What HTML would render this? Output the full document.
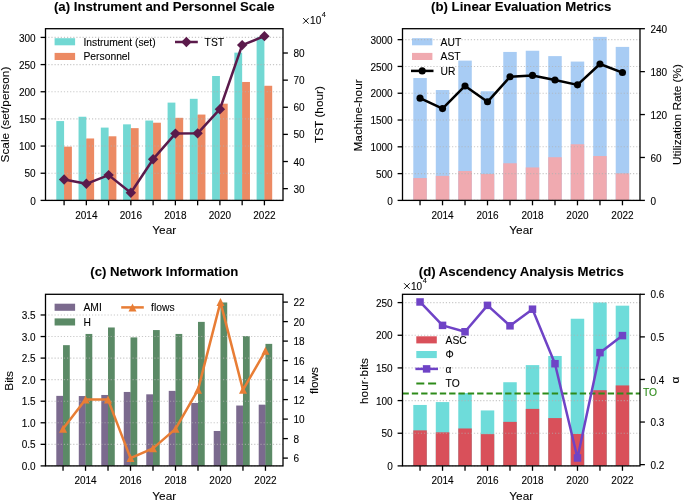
<!DOCTYPE html>
<html><head><meta charset="utf-8"><title>Figure</title>
<style>html,body{margin:0;padding:0;background:#fff;width:685px;height:501px;overflow:hidden}svg{display:block;will-change:transform}</style>
</head><body>
<svg width="685" height="501" viewBox="0 0 685 501" font-family='"Liberation Sans", sans-serif'>
<style>text{stroke:currentColor;stroke-width:0.1px;paint-order:stroke}text[font-weight=bold]{stroke-width:0.08px}</style>
<rect width="685" height="501" fill="#fff"/>
<rect x="56.3" y="121.08" width="7.79" height="79.32" fill="#72D8D3" />
<rect x="63.99" y="147.12" width="0.9" height="53.28" fill="#72D8D3" />
<rect x="64.09" y="146.62" width="7.79" height="53.78" fill="#EC8A63" />
<rect x="78.55" y="116.74" width="7.79" height="83.66" fill="#72D8D3" />
<rect x="86.24" y="138.97" width="0.9" height="61.43" fill="#72D8D3" />
<rect x="86.34" y="138.47" width="7.79" height="61.93" fill="#EC8A63" />
<rect x="100.81" y="127.6" width="7.79" height="72.8" fill="#72D8D3" />
<rect x="108.5" y="136.79" width="0.9" height="63.61" fill="#72D8D3" />
<rect x="108.6" y="136.29" width="7.79" height="64.11" fill="#EC8A63" />
<rect x="123.07" y="124.34" width="7.79" height="76.06" fill="#72D8D3" />
<rect x="130.76" y="128.65" width="0.9" height="71.75" fill="#72D8D3" />
<rect x="130.86" y="128.15" width="7.79" height="72.25" fill="#EC8A63" />
<rect x="145.33" y="120.54" width="7.79" height="79.86" fill="#72D8D3" />
<rect x="153.02" y="123.21" width="0.9" height="77.19" fill="#72D8D3" />
<rect x="153.12" y="122.71" width="7.79" height="77.69" fill="#EC8A63" />
<rect x="167.59" y="102.61" width="7.79" height="97.79" fill="#72D8D3" />
<rect x="175.28" y="118.32" width="0.9" height="82.08" fill="#72D8D3" />
<rect x="175.38" y="117.82" width="7.79" height="82.58" fill="#EC8A63" />
<rect x="189.85" y="98.81" width="7.79" height="101.59" fill="#72D8D3" />
<rect x="197.54" y="115.06" width="0.9" height="85.34" fill="#72D8D3" />
<rect x="197.64" y="114.56" width="7.79" height="85.84" fill="#EC8A63" />
<rect x="212.11" y="75.99" width="7.79" height="124.41" fill="#72D8D3" />
<rect x="219.8" y="104.2" width="0.9" height="96.2" fill="#72D8D3" />
<rect x="219.9" y="103.7" width="7.79" height="96.7" fill="#EC8A63" />
<rect x="234.36" y="52.63" width="7.79" height="147.77" fill="#72D8D3" />
<rect x="242.06" y="82.47" width="0.9" height="117.93" fill="#72D8D3" />
<rect x="242.16" y="81.97" width="7.79" height="118.43" fill="#EC8A63" />
<rect x="256.62" y="36.88" width="7.79" height="163.52" fill="#72D8D3" />
<rect x="264.31" y="86.27" width="0.9" height="114.13" fill="#72D8D3" />
<rect x="264.41" y="85.77" width="7.79" height="114.63" fill="#EC8A63" />
<line x1="45.5" y1="200.4" x2="283" y2="200.4" stroke="#b0b0b0" stroke-opacity="0.7" stroke-width="1.1" stroke-dasharray="1.18 1.94" stroke-dashoffset="0.34"/>
<line x1="45.5" y1="173.24" x2="283" y2="173.24" stroke="#b0b0b0" stroke-opacity="0.7" stroke-width="1.1" stroke-dasharray="1.18 1.94" stroke-dashoffset="0.34"/>
<line x1="45.5" y1="146.07" x2="283" y2="146.07" stroke="#b0b0b0" stroke-opacity="0.7" stroke-width="1.1" stroke-dasharray="1.18 1.94" stroke-dashoffset="0.34"/>
<line x1="45.5" y1="118.91" x2="283" y2="118.91" stroke="#b0b0b0" stroke-opacity="0.7" stroke-width="1.1" stroke-dasharray="1.18 1.94" stroke-dashoffset="0.34"/>
<line x1="45.5" y1="91.75" x2="283" y2="91.75" stroke="#b0b0b0" stroke-opacity="0.7" stroke-width="1.1" stroke-dasharray="1.18 1.94" stroke-dashoffset="0.34"/>
<line x1="45.5" y1="64.58" x2="283" y2="64.58" stroke="#b0b0b0" stroke-opacity="0.7" stroke-width="1.1" stroke-dasharray="1.18 1.94" stroke-dashoffset="0.34"/>
<line x1="45.5" y1="37.42" x2="283" y2="37.42" stroke="#b0b0b0" stroke-opacity="0.7" stroke-width="1.1" stroke-dasharray="1.18 1.94" stroke-dashoffset="0.34"/>
<polyline points="64.09,179.51 86.34,183.8 108.6,175.12 130.86,192.7 153.12,159.19 175.38,133.58 197.64,133.36 219.9,109.22 242.16,45.11 264.41,36.16" fill="none" stroke="#5B1A4B" stroke-width="2.5" stroke-linejoin="round" stroke-linecap="butt"/>
<path d="M58.89,179.51 L64.09,174.31 L69.29,179.51 L64.09,184.71 Z" fill="#5B1A4B"/>
<path d="M81.14,183.8 L86.34,178.6 L91.54,183.8 L86.34,189 Z" fill="#5B1A4B"/>
<path d="M103.4,175.12 L108.6,169.92 L113.8,175.12 L108.6,180.32 Z" fill="#5B1A4B"/>
<path d="M125.66,192.7 L130.86,187.5 L136.06,192.7 L130.86,197.9 Z" fill="#5B1A4B"/>
<path d="M147.92,159.19 L153.12,153.99 L158.32,159.19 L153.12,164.39 Z" fill="#5B1A4B"/>
<path d="M170.18,133.58 L175.38,128.38 L180.58,133.58 L175.38,138.78 Z" fill="#5B1A4B"/>
<path d="M192.44,133.36 L197.64,128.16 L202.84,133.36 L197.64,138.56 Z" fill="#5B1A4B"/>
<path d="M214.7,109.22 L219.9,104.02 L225.1,109.22 L219.9,114.42 Z" fill="#5B1A4B"/>
<path d="M236.96,45.11 L242.16,39.91 L247.36,45.11 L242.16,50.31 Z" fill="#5B1A4B"/>
<path d="M259.21,36.16 L264.41,30.96 L269.61,36.16 L264.41,41.36 Z" fill="#5B1A4B"/>
<rect x="45.5" y="28.7" width="237.5" height="171.7" fill="none" stroke="#000" stroke-width="1.3"/>
<line x1="64.09" y1="200.4" x2="64.09" y2="205.3" stroke="#000" stroke-width="1.3"/>
<line x1="86.34" y1="200.4" x2="86.34" y2="205.3" stroke="#000" stroke-width="1.3"/>
<line x1="108.6" y1="200.4" x2="108.6" y2="205.3" stroke="#000" stroke-width="1.3"/>
<line x1="130.86" y1="200.4" x2="130.86" y2="205.3" stroke="#000" stroke-width="1.3"/>
<line x1="153.12" y1="200.4" x2="153.12" y2="205.3" stroke="#000" stroke-width="1.3"/>
<line x1="175.38" y1="200.4" x2="175.38" y2="205.3" stroke="#000" stroke-width="1.3"/>
<line x1="197.64" y1="200.4" x2="197.64" y2="205.3" stroke="#000" stroke-width="1.3"/>
<line x1="219.9" y1="200.4" x2="219.9" y2="205.3" stroke="#000" stroke-width="1.3"/>
<line x1="242.16" y1="200.4" x2="242.16" y2="205.3" stroke="#000" stroke-width="1.3"/>
<line x1="264.41" y1="200.4" x2="264.41" y2="205.3" stroke="#000" stroke-width="1.3"/>
<text x="86.34" y="218.5" font-size="10.0" text-anchor="middle" font-weight="normal" fill="#000" color="#000" >2014</text>
<text x="130.86" y="218.5" font-size="10.0" text-anchor="middle" font-weight="normal" fill="#000" color="#000" >2016</text>
<text x="175.38" y="218.5" font-size="10.0" text-anchor="middle" font-weight="normal" fill="#000" color="#000" >2018</text>
<text x="219.9" y="218.5" font-size="10.0" text-anchor="middle" font-weight="normal" fill="#000" color="#000" >2020</text>
<text x="264.41" y="218.5" font-size="10.0" text-anchor="middle" font-weight="normal" fill="#000" color="#000" >2022</text>
<line x1="40.6" y1="200.4" x2="45.5" y2="200.4" stroke="#000" stroke-width="1.3"/>
<text x="35.7" y="204.5" font-size="10.0" text-anchor="end" font-weight="normal" fill="#000" color="#000" >0</text>
<line x1="40.6" y1="173.24" x2="45.5" y2="173.24" stroke="#000" stroke-width="1.3"/>
<text x="35.7" y="177.34" font-size="10.0" text-anchor="end" font-weight="normal" fill="#000" color="#000" >50</text>
<line x1="40.6" y1="146.07" x2="45.5" y2="146.07" stroke="#000" stroke-width="1.3"/>
<text x="35.7" y="150.17" font-size="10.0" text-anchor="end" font-weight="normal" fill="#000" color="#000" >100</text>
<line x1="40.6" y1="118.91" x2="45.5" y2="118.91" stroke="#000" stroke-width="1.3"/>
<text x="35.7" y="123.01" font-size="10.0" text-anchor="end" font-weight="normal" fill="#000" color="#000" >150</text>
<line x1="40.6" y1="91.75" x2="45.5" y2="91.75" stroke="#000" stroke-width="1.3"/>
<text x="35.7" y="95.85" font-size="10.0" text-anchor="end" font-weight="normal" fill="#000" color="#000" >200</text>
<line x1="40.6" y1="64.58" x2="45.5" y2="64.58" stroke="#000" stroke-width="1.3"/>
<text x="35.7" y="68.68" font-size="10.0" text-anchor="end" font-weight="normal" fill="#000" color="#000" >250</text>
<line x1="40.6" y1="37.42" x2="45.5" y2="37.42" stroke="#000" stroke-width="1.3"/>
<text x="35.7" y="41.52" font-size="10.0" text-anchor="end" font-weight="normal" fill="#000" color="#000" >300</text>
<line x1="283" y1="188.65" x2="287.9" y2="188.65" stroke="#000" stroke-width="1.3"/>
<text x="293.4" y="192.75" font-size="10.0" text-anchor="start" font-weight="normal" fill="#000" color="#000" >30</text>
<line x1="283" y1="161.52" x2="287.9" y2="161.52" stroke="#000" stroke-width="1.3"/>
<text x="293.4" y="165.62" font-size="10.0" text-anchor="start" font-weight="normal" fill="#000" color="#000" >40</text>
<line x1="283" y1="134.39" x2="287.9" y2="134.39" stroke="#000" stroke-width="1.3"/>
<text x="293.4" y="138.49" font-size="10.0" text-anchor="start" font-weight="normal" fill="#000" color="#000" >50</text>
<line x1="283" y1="107.27" x2="287.9" y2="107.27" stroke="#000" stroke-width="1.3"/>
<text x="293.4" y="111.37" font-size="10.0" text-anchor="start" font-weight="normal" fill="#000" color="#000" >60</text>
<line x1="283" y1="80.14" x2="287.9" y2="80.14" stroke="#000" stroke-width="1.3"/>
<text x="293.4" y="84.24" font-size="10.0" text-anchor="start" font-weight="normal" fill="#000" color="#000" >70</text>
<line x1="283" y1="53.01" x2="287.9" y2="53.01" stroke="#000" stroke-width="1.3"/>
<text x="293.4" y="57.11" font-size="10.0" text-anchor="start" font-weight="normal" fill="#000" color="#000" >80</text>
<text x="164.25" y="10.6" font-size="13.2" text-anchor="middle" font-weight="bold" fill="#000" color="#000" >(a) Instrument and Personnel Scale</text>
<text x="164.25" y="234" font-size="11.8" text-anchor="middle" font-weight="normal" fill="#000" color="#000" >Year</text>
<text x="0" y="0" font-size="11.8" text-anchor="middle" transform="translate(9.2,114.55) rotate(-90)">Scale (set/person)</text>
<text x="0" y="0" font-size="11.8" text-anchor="middle" transform="translate(323.1,114.55) rotate(-90)">TST (hour)</text>
<path d="M303.15,18.1 L308.65,23.6 M303.15,23.6 L308.65,18.1" stroke="#000" stroke-width="0.95" fill="none"/>
<text x="310.1" y="24" font-size="10.0">10</text>
<text x="321.7" y="17" font-size="7.4">4</text>
<rect x="54.6" y="38.2" width="20.5" height="7.1" fill="#72D8D3" />
<text x="83.5" y="45.5" font-size="10.3" text-anchor="start" font-weight="normal" fill="#000" color="#000" >Instrument (set)</text>
<rect x="54.6" y="52.9" width="20.5" height="7.1" fill="#EC8A63" />
<text x="83.5" y="60.1" font-size="10.3" text-anchor="start" font-weight="normal" fill="#000" color="#000" >Personnel</text>
<line x1="175" y1="42" x2="197.8" y2="42" stroke="#5B1A4B" stroke-width="2.5"/>
<path d="M181.2,42 L186.4,36.8 L191.6,42 L186.4,47.2 Z" fill="#5B1A4B"/>
<text x="204.6" y="45.6" font-size="10.3" text-anchor="start" font-weight="normal" fill="#000" color="#000" >TST</text>
<rect x="413.3" y="78.03" width="13.49" height="122.37" fill="#A8CCF4" />
<rect x="413.3" y="178.06" width="13.49" height="22.34" fill="#F0AAB0" />
<rect x="435.79" y="90.03" width="13.49" height="110.37" fill="#A8CCF4" />
<rect x="435.79" y="175.86" width="13.49" height="24.54" fill="#F0AAB0" />
<rect x="458.28" y="60.61" width="13.49" height="139.79" fill="#A8CCF4" />
<rect x="458.28" y="171.04" width="13.49" height="29.36" fill="#F0AAB0" />
<rect x="480.77" y="91.26" width="13.49" height="109.14" fill="#A8CCF4" />
<rect x="480.77" y="174.04" width="13.49" height="26.36" fill="#F0AAB0" />
<rect x="503.26" y="51.93" width="13.49" height="148.47" fill="#A8CCF4" />
<rect x="503.26" y="163.27" width="13.49" height="37.13" fill="#F0AAB0" />
<rect x="525.75" y="50.75" width="13.49" height="149.65" fill="#A8CCF4" />
<rect x="525.75" y="167.45" width="13.49" height="32.95" fill="#F0AAB0" />
<rect x="548.24" y="56.11" width="13.49" height="144.29" fill="#A8CCF4" />
<rect x="548.24" y="157.22" width="13.49" height="43.18" fill="#F0AAB0" />
<rect x="570.73" y="61.58" width="13.49" height="138.82" fill="#A8CCF4" />
<rect x="570.73" y="144.25" width="13.49" height="56.15" fill="#F0AAB0" />
<rect x="593.22" y="36.88" width="13.49" height="163.52" fill="#A8CCF4" />
<rect x="593.22" y="156.04" width="13.49" height="44.36" fill="#F0AAB0" />
<rect x="615.71" y="46.9" width="13.49" height="153.5" fill="#A8CCF4" />
<rect x="615.71" y="173.34" width="13.49" height="27.06" fill="#F0AAB0" />
<rect x="412" y="38.2" width="20.4" height="7.1" fill="#A8CCF4" />
<line x1="402.5" y1="200.4" x2="640" y2="200.4" stroke="#b0b0b0" stroke-opacity="0.7" stroke-width="1.1" stroke-dasharray="1.18 1.94" stroke-dashoffset="0.34"/>
<line x1="402.5" y1="173.61" x2="640" y2="173.61" stroke="#b0b0b0" stroke-opacity="0.7" stroke-width="1.1" stroke-dasharray="1.18 1.94" stroke-dashoffset="0.34"/>
<line x1="402.5" y1="146.82" x2="640" y2="146.82" stroke="#b0b0b0" stroke-opacity="0.7" stroke-width="1.1" stroke-dasharray="1.18 1.94" stroke-dashoffset="0.34"/>
<line x1="402.5" y1="120.03" x2="640" y2="120.03" stroke="#b0b0b0" stroke-opacity="0.7" stroke-width="1.1" stroke-dasharray="1.18 1.94" stroke-dashoffset="0.34"/>
<line x1="402.5" y1="93.24" x2="640" y2="93.24" stroke="#b0b0b0" stroke-opacity="0.7" stroke-width="1.1" stroke-dasharray="1.18 1.94" stroke-dashoffset="0.34"/>
<line x1="402.5" y1="66.45" x2="640" y2="66.45" stroke="#b0b0b0" stroke-opacity="0.7" stroke-width="1.1" stroke-dasharray="1.18 1.94" stroke-dashoffset="0.34"/>
<line x1="402.5" y1="39.66" x2="640" y2="39.66" stroke="#b0b0b0" stroke-opacity="0.7" stroke-width="1.1" stroke-dasharray="1.18 1.94" stroke-dashoffset="0.34"/>
<polyline points="420.04,98.17 442.53,108.61 465.02,85.93 487.51,101.82 510,76.78 532.5,75.42 554.99,80 577.48,84.86 599.97,63.97 622.46,72.56" fill="none" stroke="#000" stroke-width="2.5" stroke-linejoin="round" stroke-linecap="butt"/>
<circle cx="420.04" cy="98.17" r="3.55" fill="#000"/>
<circle cx="442.53" cy="108.61" r="3.55" fill="#000"/>
<circle cx="465.02" cy="85.93" r="3.55" fill="#000"/>
<circle cx="487.51" cy="101.82" r="3.55" fill="#000"/>
<circle cx="510" cy="76.78" r="3.55" fill="#000"/>
<circle cx="532.5" cy="75.42" r="3.55" fill="#000"/>
<circle cx="554.99" cy="80" r="3.55" fill="#000"/>
<circle cx="577.48" cy="84.86" r="3.55" fill="#000"/>
<circle cx="599.97" cy="63.97" r="3.55" fill="#000"/>
<circle cx="622.46" cy="72.56" r="3.55" fill="#000"/>
<rect x="402.5" y="28.7" width="237.5" height="171.7" fill="none" stroke="#000" stroke-width="1.3"/>
<line x1="420.04" y1="200.4" x2="420.04" y2="205.3" stroke="#000" stroke-width="1.3"/>
<line x1="442.53" y1="200.4" x2="442.53" y2="205.3" stroke="#000" stroke-width="1.3"/>
<line x1="465.02" y1="200.4" x2="465.02" y2="205.3" stroke="#000" stroke-width="1.3"/>
<line x1="487.51" y1="200.4" x2="487.51" y2="205.3" stroke="#000" stroke-width="1.3"/>
<line x1="510" y1="200.4" x2="510" y2="205.3" stroke="#000" stroke-width="1.3"/>
<line x1="532.5" y1="200.4" x2="532.5" y2="205.3" stroke="#000" stroke-width="1.3"/>
<line x1="554.99" y1="200.4" x2="554.99" y2="205.3" stroke="#000" stroke-width="1.3"/>
<line x1="577.48" y1="200.4" x2="577.48" y2="205.3" stroke="#000" stroke-width="1.3"/>
<line x1="599.97" y1="200.4" x2="599.97" y2="205.3" stroke="#000" stroke-width="1.3"/>
<line x1="622.46" y1="200.4" x2="622.46" y2="205.3" stroke="#000" stroke-width="1.3"/>
<text x="442.53" y="218.5" font-size="10.0" text-anchor="middle" font-weight="normal" fill="#000" color="#000" >2014</text>
<text x="487.51" y="218.5" font-size="10.0" text-anchor="middle" font-weight="normal" fill="#000" color="#000" >2016</text>
<text x="532.5" y="218.5" font-size="10.0" text-anchor="middle" font-weight="normal" fill="#000" color="#000" >2018</text>
<text x="577.48" y="218.5" font-size="10.0" text-anchor="middle" font-weight="normal" fill="#000" color="#000" >2020</text>
<text x="622.46" y="218.5" font-size="10.0" text-anchor="middle" font-weight="normal" fill="#000" color="#000" >2022</text>
<line x1="397.6" y1="200.4" x2="402.5" y2="200.4" stroke="#000" stroke-width="1.3"/>
<text x="392.7" y="204.5" font-size="10.0" text-anchor="end" font-weight="normal" fill="#000" color="#000" >0</text>
<line x1="397.6" y1="173.61" x2="402.5" y2="173.61" stroke="#000" stroke-width="1.3"/>
<text x="392.7" y="177.71" font-size="10.0" text-anchor="end" font-weight="normal" fill="#000" color="#000" >500</text>
<line x1="397.6" y1="146.82" x2="402.5" y2="146.82" stroke="#000" stroke-width="1.3"/>
<text x="392.7" y="150.92" font-size="10.0" text-anchor="end" font-weight="normal" fill="#000" color="#000" >1000</text>
<line x1="397.6" y1="120.03" x2="402.5" y2="120.03" stroke="#000" stroke-width="1.3"/>
<text x="392.7" y="124.13" font-size="10.0" text-anchor="end" font-weight="normal" fill="#000" color="#000" >1500</text>
<line x1="397.6" y1="93.24" x2="402.5" y2="93.24" stroke="#000" stroke-width="1.3"/>
<text x="392.7" y="97.34" font-size="10.0" text-anchor="end" font-weight="normal" fill="#000" color="#000" >2000</text>
<line x1="397.6" y1="66.45" x2="402.5" y2="66.45" stroke="#000" stroke-width="1.3"/>
<text x="392.7" y="70.55" font-size="10.0" text-anchor="end" font-weight="normal" fill="#000" color="#000" >2500</text>
<line x1="397.6" y1="39.66" x2="402.5" y2="39.66" stroke="#000" stroke-width="1.3"/>
<text x="392.7" y="43.76" font-size="10.0" text-anchor="end" font-weight="normal" fill="#000" color="#000" >3000</text>
<line x1="640" y1="200.4" x2="644.9" y2="200.4" stroke="#000" stroke-width="1.3"/>
<text x="650.4" y="204.5" font-size="10.0" text-anchor="start" font-weight="normal" fill="#000" color="#000" >0</text>
<line x1="640" y1="157.47" x2="644.9" y2="157.47" stroke="#000" stroke-width="1.3"/>
<text x="650.4" y="161.57" font-size="10.0" text-anchor="start" font-weight="normal" fill="#000" color="#000" >60</text>
<line x1="640" y1="114.55" x2="644.9" y2="114.55" stroke="#000" stroke-width="1.3"/>
<text x="650.4" y="118.65" font-size="10.0" text-anchor="start" font-weight="normal" fill="#000" color="#000" >120</text>
<line x1="640" y1="71.62" x2="644.9" y2="71.62" stroke="#000" stroke-width="1.3"/>
<text x="650.4" y="75.72" font-size="10.0" text-anchor="start" font-weight="normal" fill="#000" color="#000" >180</text>
<line x1="640" y1="28.7" x2="644.9" y2="28.7" stroke="#000" stroke-width="1.3"/>
<text x="650.4" y="32.8" font-size="10.0" text-anchor="start" font-weight="normal" fill="#000" color="#000" >240</text>
<text x="521.25" y="10.6" font-size="13.2" text-anchor="middle" font-weight="bold" fill="#000" color="#000" >(b) Linear Evaluation Metrics</text>
<text x="521.25" y="234" font-size="11.8" text-anchor="middle" font-weight="normal" fill="#000" color="#000" >Year</text>
<text x="0" y="0" font-size="11.8" text-anchor="middle" transform="translate(362.3,115.45) rotate(-90)">Machine-hour</text>
<text x="0" y="0" font-size="11.8" text-anchor="middle" transform="translate(681,114.55) rotate(-90)">Utilization Rate (%)</text>
<text x="440.6" y="45.5" font-size="10.3" text-anchor="start" font-weight="normal" fill="#000" color="#000" >AUT</text>
<rect x="412" y="52.9" width="20.4" height="7.1" fill="#F0AAB0" />
<text x="440.6" y="60.1" font-size="10.3" text-anchor="start" font-weight="normal" fill="#000" color="#000" >AST</text>
<line x1="411" y1="70.9" x2="433.5" y2="70.9" stroke="#000" stroke-width="2.5"/>
<circle cx="422.2" cy="70.9" r="3.55" fill="#000"/>
<text x="440.6" y="74.6" font-size="10.3" text-anchor="start" font-weight="normal" fill="#000" color="#000" >UR</text>
<rect x="56.3" y="395.87" width="6.75" height="70.03" fill="#7B6A8E" />
<rect x="62.94" y="396.37" width="0.9" height="69.53" fill="#7B6A8E" />
<rect x="63.04" y="345.16" width="6.75" height="120.74" fill="#5B8A66" />
<rect x="78.79" y="396.04" width="6.75" height="69.86" fill="#7B6A8E" />
<rect x="85.43" y="396.54" width="0.9" height="69.36" fill="#7B6A8E" />
<rect x="85.53" y="333.95" width="6.75" height="131.95" fill="#5B8A66" />
<rect x="101.28" y="394.97" width="6.75" height="70.93" fill="#7B6A8E" />
<rect x="107.92" y="395.47" width="0.9" height="70.43" fill="#7B6A8E" />
<rect x="108.02" y="327.48" width="6.75" height="138.42" fill="#5B8A66" />
<rect x="123.77" y="391.95" width="6.75" height="73.95" fill="#7B6A8E" />
<rect x="130.41" y="392.45" width="0.9" height="73.45" fill="#7B6A8E" />
<rect x="130.51" y="337.4" width="6.75" height="128.5" fill="#5B8A66" />
<rect x="146.26" y="394.32" width="6.75" height="71.58" fill="#7B6A8E" />
<rect x="152.9" y="394.82" width="0.9" height="71.08" fill="#7B6A8E" />
<rect x="153" y="330.07" width="6.75" height="135.83" fill="#5B8A66" />
<rect x="168.75" y="390.87" width="6.75" height="75.03" fill="#7B6A8E" />
<rect x="175.4" y="391.37" width="0.9" height="74.53" fill="#7B6A8E" />
<rect x="175.5" y="333.95" width="6.75" height="131.95" fill="#5B8A66" />
<rect x="191.24" y="402.94" width="6.75" height="62.96" fill="#7B6A8E" />
<rect x="197.89" y="403.44" width="0.9" height="62.46" fill="#7B6A8E" />
<rect x="197.99" y="321.88" width="6.75" height="144.02" fill="#5B8A66" />
<rect x="213.73" y="430.97" width="6.75" height="34.93" fill="#7B6A8E" />
<rect x="220.38" y="431.47" width="0.9" height="34.43" fill="#7B6A8E" />
<rect x="220.48" y="302.47" width="6.75" height="163.43" fill="#5B8A66" />
<rect x="236.22" y="405.53" width="6.75" height="60.37" fill="#7B6A8E" />
<rect x="242.87" y="406.03" width="0.9" height="59.87" fill="#7B6A8E" />
<rect x="242.97" y="336.11" width="6.75" height="129.79" fill="#5B8A66" />
<rect x="258.71" y="404.67" width="6.75" height="61.23" fill="#7B6A8E" />
<rect x="265.36" y="405.17" width="0.9" height="60.73" fill="#7B6A8E" />
<rect x="265.46" y="343.87" width="6.75" height="122.03" fill="#5B8A66" />
<line x1="45.5" y1="465.9" x2="283" y2="465.9" stroke="#b0b0b0" stroke-opacity="0.7" stroke-width="1.1" stroke-dasharray="1.18 1.94" stroke-dashoffset="0.34"/>
<line x1="45.5" y1="444.34" x2="283" y2="444.34" stroke="#b0b0b0" stroke-opacity="0.7" stroke-width="1.1" stroke-dasharray="1.18 1.94" stroke-dashoffset="0.34"/>
<line x1="45.5" y1="422.78" x2="283" y2="422.78" stroke="#b0b0b0" stroke-opacity="0.7" stroke-width="1.1" stroke-dasharray="1.18 1.94" stroke-dashoffset="0.34"/>
<line x1="45.5" y1="401.22" x2="283" y2="401.22" stroke="#b0b0b0" stroke-opacity="0.7" stroke-width="1.1" stroke-dasharray="1.18 1.94" stroke-dashoffset="0.34"/>
<line x1="45.5" y1="379.66" x2="283" y2="379.66" stroke="#b0b0b0" stroke-opacity="0.7" stroke-width="1.1" stroke-dasharray="1.18 1.94" stroke-dashoffset="0.34"/>
<line x1="45.5" y1="358.1" x2="283" y2="358.1" stroke="#b0b0b0" stroke-opacity="0.7" stroke-width="1.1" stroke-dasharray="1.18 1.94" stroke-dashoffset="0.34"/>
<line x1="45.5" y1="336.54" x2="283" y2="336.54" stroke="#b0b0b0" stroke-opacity="0.7" stroke-width="1.1" stroke-dasharray="1.18 1.94" stroke-dashoffset="0.34"/>
<line x1="45.5" y1="314.98" x2="283" y2="314.98" stroke="#b0b0b0" stroke-opacity="0.7" stroke-width="1.1" stroke-dasharray="1.18 1.94" stroke-dashoffset="0.34"/>
<polyline points="63.04,428.85 85.53,399.6 108.02,399.6 130.51,458.1 153,448.35 175.5,428.85 197.99,389.85 220.48,302.1 242.97,389.85 265.46,350.85" fill="none" stroke="#E87D35" stroke-width="2.5" stroke-linejoin="round" stroke-linecap="butt"/>
<path d="M63.04,424.85 L59.04,432.85 L67.04,432.85 Z" fill="#E87D35"/>
<path d="M85.53,395.6 L81.53,403.6 L89.53,403.6 Z" fill="#E87D35"/>
<path d="M108.02,395.6 L104.02,403.6 L112.02,403.6 Z" fill="#E87D35"/>
<path d="M130.51,454.1 L126.51,462.1 L134.51,462.1 Z" fill="#E87D35"/>
<path d="M153,444.35 L149,452.35 L157,452.35 Z" fill="#E87D35"/>
<path d="M175.5,424.85 L171.5,432.85 L179.5,432.85 Z" fill="#E87D35"/>
<path d="M197.99,385.85 L193.99,393.85 L201.99,393.85 Z" fill="#E87D35"/>
<path d="M220.48,298.1 L216.48,306.1 L224.48,306.1 Z" fill="#E87D35"/>
<path d="M242.97,385.85 L238.97,393.85 L246.97,393.85 Z" fill="#E87D35"/>
<path d="M265.46,346.85 L261.46,354.85 L269.46,354.85 Z" fill="#E87D35"/>
<rect x="45.5" y="294.3" width="237.5" height="171.6" fill="none" stroke="#000" stroke-width="1.3"/>
<line x1="63.04" y1="465.9" x2="63.04" y2="470.8" stroke="#000" stroke-width="1.3"/>
<line x1="85.53" y1="465.9" x2="85.53" y2="470.8" stroke="#000" stroke-width="1.3"/>
<line x1="108.02" y1="465.9" x2="108.02" y2="470.8" stroke="#000" stroke-width="1.3"/>
<line x1="130.51" y1="465.9" x2="130.51" y2="470.8" stroke="#000" stroke-width="1.3"/>
<line x1="153" y1="465.9" x2="153" y2="470.8" stroke="#000" stroke-width="1.3"/>
<line x1="175.5" y1="465.9" x2="175.5" y2="470.8" stroke="#000" stroke-width="1.3"/>
<line x1="197.99" y1="465.9" x2="197.99" y2="470.8" stroke="#000" stroke-width="1.3"/>
<line x1="220.48" y1="465.9" x2="220.48" y2="470.8" stroke="#000" stroke-width="1.3"/>
<line x1="242.97" y1="465.9" x2="242.97" y2="470.8" stroke="#000" stroke-width="1.3"/>
<line x1="265.46" y1="465.9" x2="265.46" y2="470.8" stroke="#000" stroke-width="1.3"/>
<text x="85.53" y="484" font-size="10.0" text-anchor="middle" font-weight="normal" fill="#000" color="#000" >2014</text>
<text x="130.51" y="484" font-size="10.0" text-anchor="middle" font-weight="normal" fill="#000" color="#000" >2016</text>
<text x="175.5" y="484" font-size="10.0" text-anchor="middle" font-weight="normal" fill="#000" color="#000" >2018</text>
<text x="220.48" y="484" font-size="10.0" text-anchor="middle" font-weight="normal" fill="#000" color="#000" >2020</text>
<text x="265.46" y="484" font-size="10.0" text-anchor="middle" font-weight="normal" fill="#000" color="#000" >2022</text>
<line x1="40.6" y1="465.9" x2="45.5" y2="465.9" stroke="#000" stroke-width="1.3"/>
<text x="35.7" y="470" font-size="10.0" text-anchor="end" font-weight="normal" fill="#000" color="#000" >0.0</text>
<line x1="40.6" y1="444.34" x2="45.5" y2="444.34" stroke="#000" stroke-width="1.3"/>
<text x="35.7" y="448.44" font-size="10.0" text-anchor="end" font-weight="normal" fill="#000" color="#000" >0.5</text>
<line x1="40.6" y1="422.78" x2="45.5" y2="422.78" stroke="#000" stroke-width="1.3"/>
<text x="35.7" y="426.88" font-size="10.0" text-anchor="end" font-weight="normal" fill="#000" color="#000" >1.0</text>
<line x1="40.6" y1="401.22" x2="45.5" y2="401.22" stroke="#000" stroke-width="1.3"/>
<text x="35.7" y="405.32" font-size="10.0" text-anchor="end" font-weight="normal" fill="#000" color="#000" >1.5</text>
<line x1="40.6" y1="379.66" x2="45.5" y2="379.66" stroke="#000" stroke-width="1.3"/>
<text x="35.7" y="383.76" font-size="10.0" text-anchor="end" font-weight="normal" fill="#000" color="#000" >2.0</text>
<line x1="40.6" y1="358.1" x2="45.5" y2="358.1" stroke="#000" stroke-width="1.3"/>
<text x="35.7" y="362.2" font-size="10.0" text-anchor="end" font-weight="normal" fill="#000" color="#000" >2.5</text>
<line x1="40.6" y1="336.54" x2="45.5" y2="336.54" stroke="#000" stroke-width="1.3"/>
<text x="35.7" y="340.64" font-size="10.0" text-anchor="end" font-weight="normal" fill="#000" color="#000" >3.0</text>
<line x1="40.6" y1="314.98" x2="45.5" y2="314.98" stroke="#000" stroke-width="1.3"/>
<text x="35.7" y="319.08" font-size="10.0" text-anchor="end" font-weight="normal" fill="#000" color="#000" >3.5</text>
<line x1="283" y1="458.1" x2="287.9" y2="458.1" stroke="#000" stroke-width="1.3"/>
<text x="293.4" y="462.2" font-size="10.0" text-anchor="start" font-weight="normal" fill="#000" color="#000" >6</text>
<line x1="283" y1="438.6" x2="287.9" y2="438.6" stroke="#000" stroke-width="1.3"/>
<text x="293.4" y="442.7" font-size="10.0" text-anchor="start" font-weight="normal" fill="#000" color="#000" >8</text>
<line x1="283" y1="419.1" x2="287.9" y2="419.1" stroke="#000" stroke-width="1.3"/>
<text x="293.4" y="423.2" font-size="10.0" text-anchor="start" font-weight="normal" fill="#000" color="#000" >10</text>
<line x1="283" y1="399.6" x2="287.9" y2="399.6" stroke="#000" stroke-width="1.3"/>
<text x="293.4" y="403.7" font-size="10.0" text-anchor="start" font-weight="normal" fill="#000" color="#000" >12</text>
<line x1="283" y1="380.1" x2="287.9" y2="380.1" stroke="#000" stroke-width="1.3"/>
<text x="293.4" y="384.2" font-size="10.0" text-anchor="start" font-weight="normal" fill="#000" color="#000" >14</text>
<line x1="283" y1="360.6" x2="287.9" y2="360.6" stroke="#000" stroke-width="1.3"/>
<text x="293.4" y="364.7" font-size="10.0" text-anchor="start" font-weight="normal" fill="#000" color="#000" >16</text>
<line x1="283" y1="341.1" x2="287.9" y2="341.1" stroke="#000" stroke-width="1.3"/>
<text x="293.4" y="345.2" font-size="10.0" text-anchor="start" font-weight="normal" fill="#000" color="#000" >18</text>
<line x1="283" y1="321.6" x2="287.9" y2="321.6" stroke="#000" stroke-width="1.3"/>
<text x="293.4" y="325.7" font-size="10.0" text-anchor="start" font-weight="normal" fill="#000" color="#000" >20</text>
<line x1="283" y1="302.1" x2="287.9" y2="302.1" stroke="#000" stroke-width="1.3"/>
<text x="293.4" y="306.2" font-size="10.0" text-anchor="start" font-weight="normal" fill="#000" color="#000" >22</text>
<text x="164.25" y="275.5" font-size="13.2" text-anchor="middle" font-weight="bold" fill="#000" color="#000" >(c) Network Information</text>
<text x="164.25" y="499.5" font-size="11.8" text-anchor="middle" font-weight="normal" fill="#000" color="#000" >Year</text>
<text x="0" y="0" font-size="11.8" text-anchor="middle" transform="translate(12.9,380.9) rotate(-90)">Bits</text>
<text x="0" y="0" font-size="11.8" text-anchor="middle" transform="translate(318.4,380.5) rotate(-90)">flows</text>
<rect x="54.6" y="303.7" width="20.5" height="7.1" fill="#7B6A8E" />
<text x="83.5" y="311" font-size="10.3" text-anchor="start" font-weight="normal" fill="#000" color="#000" >AMI</text>
<rect x="54.6" y="318.4" width="20.5" height="7.1" fill="#5B8A66" />
<text x="83.5" y="325.6" font-size="10.3" text-anchor="start" font-weight="normal" fill="#000" color="#000" >H</text>
<line x1="121.2" y1="307.4" x2="143.8" y2="307.4" stroke="#E87D35" stroke-width="2.5"/>
<path d="M132.5,303.4 L128.5,311.4 L136.5,311.4 Z" fill="#E87D35"/>
<text x="151.1" y="310.8" font-size="10.3" text-anchor="start" font-weight="normal" fill="#000" color="#000" >flows</text>
<rect x="413.3" y="404.96" width="13.49" height="60.94" fill="#6EDCDA" />
<rect x="413.3" y="430.37" width="13.49" height="35.53" fill="#D9505A" />
<rect x="435.79" y="402.08" width="13.49" height="63.82" fill="#6EDCDA" />
<rect x="435.79" y="432.33" width="13.49" height="33.57" fill="#D9505A" />
<rect x="458.28" y="393.07" width="13.49" height="72.83" fill="#6EDCDA" />
<rect x="458.28" y="428.47" width="13.49" height="37.43" fill="#D9505A" />
<rect x="480.77" y="410.44" width="13.49" height="55.46" fill="#6EDCDA" />
<rect x="480.77" y="434.15" width="13.49" height="31.75" fill="#D9505A" />
<rect x="503.26" y="382.23" width="13.49" height="83.67" fill="#6EDCDA" />
<rect x="503.26" y="421.87" width="13.49" height="44.03" fill="#D9505A" />
<rect x="525.75" y="365.11" width="13.49" height="100.79" fill="#6EDCDA" />
<rect x="525.75" y="408.88" width="13.49" height="57.02" fill="#D9505A" />
<rect x="548.24" y="355.97" width="13.49" height="109.93" fill="#6EDCDA" />
<rect x="548.24" y="418.09" width="13.49" height="47.81" fill="#D9505A" />
<rect x="570.73" y="318.74" width="13.49" height="147.16" fill="#6EDCDA" />
<rect x="570.73" y="434.02" width="13.49" height="31.88" fill="#D9505A" />
<rect x="593.22" y="302.47" width="13.49" height="163.43" fill="#6EDCDA" />
<rect x="593.22" y="390.2" width="13.49" height="75.7" fill="#D9505A" />
<rect x="615.71" y="305.67" width="13.49" height="160.23" fill="#6EDCDA" />
<rect x="615.71" y="385.43" width="13.49" height="80.47" fill="#D9505A" />
<line x1="402.5" y1="465.9" x2="640" y2="465.9" stroke="#b0b0b0" stroke-opacity="0.7" stroke-width="1.1" stroke-dasharray="1.18 1.94" stroke-dashoffset="0.34"/>
<line x1="402.5" y1="433.24" x2="640" y2="433.24" stroke="#b0b0b0" stroke-opacity="0.7" stroke-width="1.1" stroke-dasharray="1.18 1.94" stroke-dashoffset="0.34"/>
<line x1="402.5" y1="400.58" x2="640" y2="400.58" stroke="#b0b0b0" stroke-opacity="0.7" stroke-width="1.1" stroke-dasharray="1.18 1.94" stroke-dashoffset="0.34"/>
<line x1="402.5" y1="367.92" x2="640" y2="367.92" stroke="#b0b0b0" stroke-opacity="0.7" stroke-width="1.1" stroke-dasharray="1.18 1.94" stroke-dashoffset="0.34"/>
<line x1="402.5" y1="335.26" x2="640" y2="335.26" stroke="#b0b0b0" stroke-opacity="0.7" stroke-width="1.1" stroke-dasharray="1.18 1.94" stroke-dashoffset="0.34"/>
<line x1="402.5" y1="302.6" x2="640" y2="302.6" stroke="#b0b0b0" stroke-opacity="0.7" stroke-width="1.1" stroke-dasharray="1.18 1.94" stroke-dashoffset="0.34"/>
<line x1="402.5" y1="393.46" x2="640" y2="393.46" stroke="#2E8B1A" stroke-width="2.0" stroke-dasharray="6.33 3.0"/>
<polyline points="420.04,301.96 442.53,325.38 465.02,331.77 487.51,305.37 510,325.81 532.5,309.2 554.99,363.71 577.48,457.98 599.97,352.64 622.46,335.6" fill="none" stroke="#6F43C6" stroke-width="2.5" stroke-linejoin="round" stroke-linecap="butt"/>
<rect x="416.29" y="298.21" width="7.5" height="7.5" fill="#6F43C6"/>
<rect x="438.78" y="321.63" width="7.5" height="7.5" fill="#6F43C6"/>
<rect x="461.27" y="328.02" width="7.5" height="7.5" fill="#6F43C6"/>
<rect x="483.76" y="301.62" width="7.5" height="7.5" fill="#6F43C6"/>
<rect x="506.25" y="322.06" width="7.5" height="7.5" fill="#6F43C6"/>
<rect x="528.75" y="305.45" width="7.5" height="7.5" fill="#6F43C6"/>
<rect x="551.24" y="359.96" width="7.5" height="7.5" fill="#6F43C6"/>
<rect x="573.73" y="454.23" width="7.5" height="7.5" fill="#6F43C6"/>
<rect x="596.22" y="348.89" width="7.5" height="7.5" fill="#6F43C6"/>
<rect x="618.71" y="331.85" width="7.5" height="7.5" fill="#6F43C6"/>
<rect x="402.5" y="294.3" width="237.5" height="171.6" fill="none" stroke="#000" stroke-width="1.3"/>
<line x1="420.04" y1="465.9" x2="420.04" y2="470.8" stroke="#000" stroke-width="1.3"/>
<line x1="442.53" y1="465.9" x2="442.53" y2="470.8" stroke="#000" stroke-width="1.3"/>
<line x1="465.02" y1="465.9" x2="465.02" y2="470.8" stroke="#000" stroke-width="1.3"/>
<line x1="487.51" y1="465.9" x2="487.51" y2="470.8" stroke="#000" stroke-width="1.3"/>
<line x1="510" y1="465.9" x2="510" y2="470.8" stroke="#000" stroke-width="1.3"/>
<line x1="532.5" y1="465.9" x2="532.5" y2="470.8" stroke="#000" stroke-width="1.3"/>
<line x1="554.99" y1="465.9" x2="554.99" y2="470.8" stroke="#000" stroke-width="1.3"/>
<line x1="577.48" y1="465.9" x2="577.48" y2="470.8" stroke="#000" stroke-width="1.3"/>
<line x1="599.97" y1="465.9" x2="599.97" y2="470.8" stroke="#000" stroke-width="1.3"/>
<line x1="622.46" y1="465.9" x2="622.46" y2="470.8" stroke="#000" stroke-width="1.3"/>
<text x="442.53" y="484" font-size="10.0" text-anchor="middle" font-weight="normal" fill="#000" color="#000" >2014</text>
<text x="487.51" y="484" font-size="10.0" text-anchor="middle" font-weight="normal" fill="#000" color="#000" >2016</text>
<text x="532.5" y="484" font-size="10.0" text-anchor="middle" font-weight="normal" fill="#000" color="#000" >2018</text>
<text x="577.48" y="484" font-size="10.0" text-anchor="middle" font-weight="normal" fill="#000" color="#000" >2020</text>
<text x="622.46" y="484" font-size="10.0" text-anchor="middle" font-weight="normal" fill="#000" color="#000" >2022</text>
<line x1="397.6" y1="465.9" x2="402.5" y2="465.9" stroke="#000" stroke-width="1.3"/>
<text x="392.7" y="470" font-size="10.0" text-anchor="end" font-weight="normal" fill="#000" color="#000" >0</text>
<line x1="397.6" y1="433.24" x2="402.5" y2="433.24" stroke="#000" stroke-width="1.3"/>
<text x="392.7" y="437.34" font-size="10.0" text-anchor="end" font-weight="normal" fill="#000" color="#000" >50</text>
<line x1="397.6" y1="400.58" x2="402.5" y2="400.58" stroke="#000" stroke-width="1.3"/>
<text x="392.7" y="404.68" font-size="10.0" text-anchor="end" font-weight="normal" fill="#000" color="#000" >100</text>
<line x1="397.6" y1="367.92" x2="402.5" y2="367.92" stroke="#000" stroke-width="1.3"/>
<text x="392.7" y="372.02" font-size="10.0" text-anchor="end" font-weight="normal" fill="#000" color="#000" >150</text>
<line x1="397.6" y1="335.26" x2="402.5" y2="335.26" stroke="#000" stroke-width="1.3"/>
<text x="392.7" y="339.36" font-size="10.0" text-anchor="end" font-weight="normal" fill="#000" color="#000" >200</text>
<line x1="397.6" y1="302.6" x2="402.5" y2="302.6" stroke="#000" stroke-width="1.3"/>
<text x="392.7" y="306.7" font-size="10.0" text-anchor="end" font-weight="normal" fill="#000" color="#000" >250</text>
<line x1="640" y1="464.62" x2="644.9" y2="464.62" stroke="#000" stroke-width="1.3"/>
<text x="650.4" y="468.72" font-size="10.0" text-anchor="start" font-weight="normal" fill="#000" color="#000" >0.2</text>
<line x1="640" y1="422.04" x2="644.9" y2="422.04" stroke="#000" stroke-width="1.3"/>
<text x="650.4" y="426.14" font-size="10.0" text-anchor="start" font-weight="normal" fill="#000" color="#000" >0.3</text>
<line x1="640" y1="379.46" x2="644.9" y2="379.46" stroke="#000" stroke-width="1.3"/>
<text x="650.4" y="383.56" font-size="10.0" text-anchor="start" font-weight="normal" fill="#000" color="#000" >0.4</text>
<line x1="640" y1="336.88" x2="644.9" y2="336.88" stroke="#000" stroke-width="1.3"/>
<text x="650.4" y="340.98" font-size="10.0" text-anchor="start" font-weight="normal" fill="#000" color="#000" >0.5</text>
<line x1="640" y1="294.3" x2="644.9" y2="294.3" stroke="#000" stroke-width="1.3"/>
<text x="650.4" y="298.4" font-size="10.0" text-anchor="start" font-weight="normal" fill="#000" color="#000" >0.6</text>
<text x="521.25" y="275.5" font-size="13.2" text-anchor="middle" font-weight="bold" fill="#000" color="#000" >(d) Ascendency Analysis Metrics</text>
<text x="521.25" y="499.5" font-size="11.8" text-anchor="middle" font-weight="normal" fill="#000" color="#000" >Year</text>
<text x="0" y="0" font-size="11.8" text-anchor="middle" transform="translate(367.8,381) rotate(-90)">hour·bits</text>
<text x="0" y="0" font-size="11.8" text-anchor="middle" transform="translate(679.4,380.1) rotate(-90)">α</text>
<path d="M404.15,283.3 L409.65,288.8 M404.15,288.8 L409.65,283.3" stroke="#000" stroke-width="0.95" fill="none"/>
<text x="410.9" y="289.8" font-size="10.0">10</text>
<text x="422.7" y="282.8" font-size="7.4">4</text>
<text x="643" y="396.4" font-size="10.3" text-anchor="start" font-weight="normal" fill="#2E8B1A" color="#2E8B1A" >TO</text>
<rect x="416.3" y="336.3" width="20.5" height="7.1" fill="#D9505A" />
<text x="445.6" y="343.6" font-size="10.3" text-anchor="start" font-weight="normal" fill="#000" color="#000" >ASC</text>
<rect x="416.3" y="351" width="20.5" height="7.1" fill="#6EDCDA" />
<text x="445.6" y="358.2" font-size="10.3" text-anchor="start" font-weight="normal" fill="#000" color="#000" >Φ</text>
<line x1="415.4" y1="368.9" x2="438" y2="368.9" stroke="#6F43C6" stroke-width="2.5"/>
<rect x="422.85" y="365.15" width="7.5" height="7.5" fill="#6F43C6"/>
<text x="445.6" y="372.7" font-size="10.3" text-anchor="start" font-weight="normal" fill="#000" color="#000" >α</text>
<line x1="416.3" y1="383.5" x2="436.8" y2="383.5" stroke="#2E8B1A" stroke-width="2.2" stroke-dasharray="8.0 3.8"/>
<text x="445.6" y="387.2" font-size="10.3" text-anchor="start" font-weight="normal" fill="#000" color="#000" >TO</text>
</svg>
</body></html>
